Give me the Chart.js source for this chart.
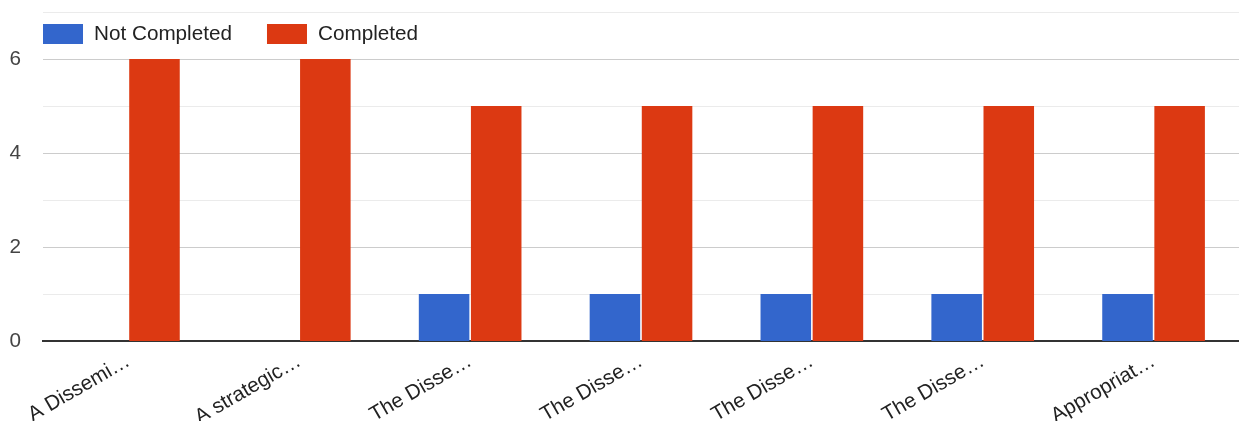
<!DOCTYPE html>
<html>
<head>
<meta charset="utf-8">
<script src="https://cdn.jsdelivr.net/npm/chart.js@4/dist/chart.umd.min.js"></script>
<style>
  html, body { margin: 0; padding: 0; background: #ffffff; }
  canvas { display: block; }
</style>
</head>
<body>
<canvas id="chart" width="1239" height="421"></canvas>
<script>
// Category labels (shortened as shown on the axis)
const categories = [
  "A Dissemi…",
  "A strategic…",
  "The Disse…",
  "The Disse…",
  "The Disse…",
  "The Disse…",
  "Appropriat…"
];

// Series values
const notCompleted = [0, 0, 1, 1, 1, 1, 1];
const completed = [6, 6, 5, 5, 5, 5, 5];

// Labelled y ticks
const yTickLabels = [0, 2, 4, 6];

const FONT = "'Liberation Sans', Arial, sans-serif";
const FONT_SIZE = 20.7;

// Legend drawn inside the plot area, on the top band
const insideLegend = {
  id: 'insideLegend',
  afterDraw(chart) {
    const ctx = chart.ctx;
    const area = chart.chartArea;
    let x = area.left;
    const top = 24;
    ctx.save();
    ctx.font = FONT_SIZE + 'px ' + FONT;
    ctx.textBaseline = 'middle';
    ctx.textAlign = 'left';
    chart.data.datasets.forEach(ds => {
      ctx.fillStyle = ds.backgroundColor;
      ctx.fillRect(x, top, 40, 20);
      ctx.fillStyle = '#222222';
      ctx.fillText(ds.label, x + 51, top + 10.5);
      x += 51 + ctx.measureText(ds.label).width + 35;
    });
    ctx.restore();
  }
};

new Chart(document.getElementById('chart'), {
  type: 'bar',
  data: {
    labels: categories,
    datasets: [
      {
        label: 'Not Completed',
        data: notCompleted,
        backgroundColor: '#3366cc',
        barPercentage: 0.97,
        categoryPercentage: 0.61
      },
      {
        label: 'Completed',
        data: completed,
        backgroundColor: '#dc3912',
        barPercentage: 0.97,
        categoryPercentage: 0.61
      }
    ]
  },
  options: {
    responsive: false,
    devicePixelRatio: 1,
    animation: false,
    layout: { padding: { top: 12, right: 0, left: 0, bottom: 0 } },
    plugins: {
      legend: { display: false },
      tooltip: { enabled: false }
    },
    scales: {
      x: {
        grid: { display: false },
        border: { display: true, color: '#333333', width: 2 },
        ticks: {
          color: '#222222',
          font: { family: FONT, size: FONT_SIZE },
          maxRotation: 30,
          minRotation: 30,
          padding: 0,
          autoSkip: false
        },
        afterFit(scale) {
          scale.height = 80;
          scale.paddingLeft = 0;
          scale.paddingRight = 0;
        }
      },
      y: {
        min: 0,
        max: 7,
        border: { display: false },
        grid: {
          drawTicks: false,
          lineWidth: ctx => (ctx.tick && ctx.tick.value === 0 ? 0 : 1),
          color: ctx => {
            const v = ctx.tick ? ctx.tick.value : 1;
            return v % 2 === 0 ? '#cccccc' : '#ebebeb';
          }
        },
        ticks: {
          stepSize: 1,
          color: '#444444',
          padding: 22,
          font: { family: FONT, size: FONT_SIZE },
          callback: v => (yTickLabels.includes(v) ? String(v) : '')
        },
        afterFit(scale) {
          scale.width = 43;
          scale.paddingTop = 0;
          scale.paddingBottom = 0;
        }
      }
    }
  },
  plugins: [insideLegend]
});
</script>
</body>
</html>
